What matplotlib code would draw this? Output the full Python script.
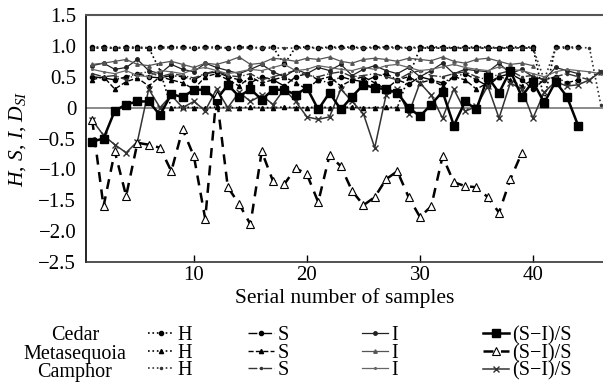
import numpy as np
import matplotlib.pyplot as plt
from matplotlib.ticker import FuncFormatter

plt.rcParams['font.family'] = 'Liberation Serif'
plt.rcParams['mathtext.fontset'] = 'custom'
plt.rcParams['mathtext.rm'] = 'Liberation Serif'
plt.rcParams['mathtext.it'] = 'Liberation Serif:italic'

# H values
cedar_h = [0.98, 0.98, 0.97, 0.98, 0.98, 0.97, 0.98, 0.98, 0.98, 0.97, 0.98, 0.98, 0.97, 0.98, 0.98, 0.97, 0.98,
           0.70, 0.98, 0.98, 0.97, 0.98, 0.98, 0.98, 0.97, 0.98, 0.98, 0.98, 0.97, 0.98, 0.98, 0.98, 0.97, 0.98,
           0.98, 0.98, 0.97, 0.98, 0.98, 0.98, 0.13, 0.98, 0.98, 0.98]
meta_h = [0.96, 0.97, 0.96, 0.97, 0.96, 0.97, 0.60, 0.00, 0.01, 0.00, 0.00, 0.01, 0.00, 0.00, 0.01, 0.00, 0.00,
          0.01, 0.00, 0.00, 0.01, 0.00, 0.00, 0.01, 0.00, 0.00, 0.01, 0.00, 0.50, 0.96, 0.97, 0.96, 0.97, 0.96,
          0.97, 0.96, 0.97, 0.96, 0.97, 0.96]
camphor_h = [0.96, 0.97, 0.96, 0.97, 0.96, 0.97, 0.96, 0.97, 0.96, 0.97, 0.96, 0.97, 0.96, 0.97, 0.96, 0.97,
             0.96, 0.97, 0.96, 0.97, 0.96, 0.97, 0.96, 0.97, 0.96, 0.97, 0.96, 0.97, 0.96, 0.97, 0.96, 0.97,
             0.96, 0.97, 0.96, 0.97, 0.96, 0.97, 0.96, 0.97, 0.45, 0.97, 0.96, 0.97, 0.97, 0.05]

# S values
cedar_s = [0.50, 0.48, 0.45, 0.50, 0.55, 0.50, 0.48, 0.52, 0.50, 0.45, 0.55, 0.58, 0.50, 0.45, 0.40, 0.50, 0.45,
           0.35, 0.50, 0.55, 0.45, 0.40, 0.50, 0.45, 0.42, 0.50, 0.55, 0.45, 0.38, 0.50, 0.45, 0.40, 0.50, 0.55,
           0.45, 0.35, 0.50, 0.55, 0.45, 0.30, 0.45, 0.50, 0.40, 0.45]
meta_s = [0.45, 0.50, 0.30, 0.42, 0.48, 0.35, 0.50, 0.45, 0.40, 0.30, 0.50, 0.55, 0.45, 0.35, 0.50, 0.40, 0.45,
          0.50, 0.40, 0.30, 0.45, 0.50, 0.35, 0.45, 0.50, 0.40, 0.30, 0.45, 0.50, 0.40, 0.45, 0.35, 0.50, 0.45,
          0.30, 0.40, 0.50, 0.45, 0.35, 0.45]
camphor_s = [0.55, 0.50, 0.52, 0.45, 0.55, 0.58, 0.50, 0.55, 0.52, 0.48, 0.55, 0.60, 0.52, 0.50, 0.55, 0.45,
             0.50, 0.55, 0.60, 0.52, 0.50, 0.55, 0.58, 0.50, 0.52, 0.55, 0.50, 0.45, 0.55, 0.60, 0.52, 0.50,
             0.55, 0.58, 0.50, 0.45, 0.55, 0.60, 0.50, 0.52, 0.45, 0.50, 0.55, 0.50, 0.45, 0.60]

# I values
cedar_i = [0.68, 0.72, 0.62, 0.65, 0.78, 0.60, 0.55, 0.70, 0.62, 0.58, 0.72, 0.65, 0.60, 0.55, 0.62, 0.70, 0.58,
           0.50, 0.62, 0.55, 0.65, 0.60, 0.70, 0.52, 0.62, 0.68, 0.60, 0.55, 0.65, 0.50, 0.60, 0.72, 0.55, 0.62,
           0.60, 0.58, 0.72, 0.55, 0.62, 0.50, 0.45, 0.65, 0.60, 0.55]
meta_i = [0.70, 0.72, 0.75, 0.78, 0.70, 0.68, 0.72, 0.75, 0.70, 0.65, 0.72, 0.70, 0.75, 0.82, 0.70, 0.72, 0.80,
          0.78, 0.75, 0.80, 0.78, 0.82, 0.75, 0.72, 0.78, 0.80, 0.78, 0.75, 0.80, 0.78, 0.76, 0.82, 0.75, 0.72,
          0.78, 0.80, 0.75, 0.70, 0.72, 0.68]
camphor_i = [0.62, 0.58, 0.55, 0.60, 0.52, 0.50, 0.60, 0.58, 0.55, 0.62, 0.65, 0.60, 0.55, 0.58, 0.62, 0.60,
             0.65, 0.70, 0.60, 0.62, 0.68, 0.65, 0.62, 0.60, 0.65, 0.62, 0.68, 0.70, 0.65, 0.60, 0.62, 0.66,
             0.70, 0.65, 0.62, 0.60, 0.66, 0.62, 0.60, 0.55, 0.50, 0.58, 0.62, 0.60, 0.58, 0.55]

# (S-I)/S values
cedar_d = [-0.55, -0.50, -0.05, 0.05, 0.10, 0.10, -0.12, 0.22, 0.17, 0.29, 0.29, 0.13, 0.37, 0.18, 0.30, 0.13,
           0.29, 0.29, 0.21, 0.32, -0.03, 0.24, -0.03, 0.18, 0.37, 0.32, 0.30, 0.24, 0.00, -0.14, 0.05, 0.26,
           -0.29, 0.10, -0.03, 0.50, 0.24, 0.60, 0.18, 0.42, 0.08, 0.42, 0.18, -0.29]
meta_d = [-0.20, -1.60, -0.71, -1.43, -0.57, -0.60, -0.65, -1.03, -0.35, -0.79, -1.80, 0.20, -1.29, -1.56,
          -1.89, -0.71, -1.19, -1.24, -0.98, -1.08, -1.53, -0.77, -0.95, -1.35, -1.58, -1.45, -1.16, -1.03,
          -1.45, -1.77, -1.60, -0.79, -1.21, -1.27, -1.29, -1.45, -1.70, -1.16, -0.74]
camphor_d = [-0.20, -0.45, -0.60, -0.73, -0.55, 0.30, 0.00, 0.20, 0.00, 0.10, -0.05, 0.30, 0.00, 0.25, 0.10,
             0.20, 0.05, 0.30, 0.10, -0.15, -0.19, -0.15, 0.30, 0.10, -0.10, -0.65, 0.20, 0.30, -0.10, 0.40,
             0.20, -0.17, 0.30, -0.06, 0.02, 0.35, -0.17, 0.40, 0.30, -0.17, 0.25, 0.42, 0.35, 0.37, 0.45, 0.58]

species = ['Cedar', 'Metasequoia', 'Camphor']

fig = plt.figure(figsize=(6.03, 3.85), dpi=100)
ax = fig.add_axes([86 / 603, 1 - 262 / 385, (603 - 86) / 603, (262 - 15) / 385])

def xs(v):
    return np.arange(1, len(v) + 1)

h_lines = [
    ax.plot(xs(cedar_h), cedar_h, ':', color='black', lw=1.2, marker='o', ms=3)[0],
    ax.plot(xs(meta_h), meta_h, ':', color='black', lw=1.2, marker='^', ms=3)[0],
    ax.plot(xs(camphor_h), camphor_h, ':', color='#333333', lw=1.2, marker='.', ms=3)[0],
]
s_lines = [
    ax.plot(xs(cedar_s), cedar_s, '-.', color='black', lw=1.0, marker='o', ms=3)[0],
    ax.plot(xs(meta_s), meta_s, '--', color='black', lw=1.0, marker='^', ms=3)[0],
    ax.plot(xs(camphor_s), camphor_s, '-.', color='#333333', lw=1.0, marker='.', ms=3)[0],
]
i_lines = [
    ax.plot(xs(cedar_i), cedar_i, '-', color='#222222', lw=0.9, marker='o', ms=2.5)[0],
    ax.plot(xs(meta_i), meta_i, '-', color='#555555', lw=0.9, marker='^', ms=2.5)[0],
    ax.plot(xs(camphor_i), camphor_i, '-', color='#666666', lw=0.9, marker='.', ms=2.5)[0],
]
d_lines = [
    ax.plot(xs(cedar_d), cedar_d, '-', color='black', lw=1.8, marker='s', ms=6, zorder=5)[0],
    ax.plot(xs(meta_d), meta_d, '--', color='black', lw=1.8, dashes=(4, 3), marker='^', ms=6,
            markerfacecolor='white', markeredgewidth=0.8, zorder=5)[0],
    ax.plot(xs(camphor_d), camphor_d, '-', color='#333333', lw=1.1, marker='x', ms=5, zorder=4)[0],
]

ax.axhline(0, color='#777777', lw=1.2, zorder=1)

ax.set_xlim(0.45, 46.2)
ax.set_ylim(-2.5, 1.5)
ax.set_xticks([10, 20, 30, 40])
ax.set_yticks(np.arange(-2.5, 1.51, 0.5))
ax.yaxis.set_major_formatter(FuncFormatter(lambda v, p: '0' if abs(v) < 1e-9 else f'{v:.1f}'.replace('-', '\u2212')))
ax.tick_params(direction='in', length=5, labelsize=15, width=1)
ax.tick_params(axis='x', pad=3)
ax.tick_params(axis='y', length=0, pad=7)
ax.spines['right'].set_visible(False)
ax.spines['top'].set_color('#555555')
ax.spines['top'].set_linewidth(1.5)
ax.spines['left'].set_linewidth(1.2)
ax.spines['bottom'].set_linewidth(1.2)
ax.spines['bottom'].set_color('#333333')

ax.set_xlabel('Serial number of samples', fontsize=15.5, labelpad=2)
ax.set_ylabel('$H$, $S$, $I$, $D_{SI}$', fontsize=15.5)
ax.yaxis.set_label_coords(-0.112, 0.5)

# legend: one block per quantity, row labels to the left
cols = [(h_lines, 'H', 148), (s_lines, 'S', 248), (i_lines, 'I', 362), (d_lines, '(S\u2212I)/S', 483)]
for handles, lab, px in cols:
    leg = fig.legend(handles, [lab] * 3, loc='upper left', bbox_to_anchor=(px / 603, 1 - 326 / 385),
                     frameon=False, fontsize=14.5, handlelength=1.3, handletextpad=0.15,
                     labelspacing=-0.07, borderpad=0, borderaxespad=0)
for k, name in enumerate(species):
    fig.text(75 / 603, 1 - (336 + 18 * k) / 385, name, ha='center', va='center', fontsize=14.5)

plt.savefig('out.png', dpi=100)
